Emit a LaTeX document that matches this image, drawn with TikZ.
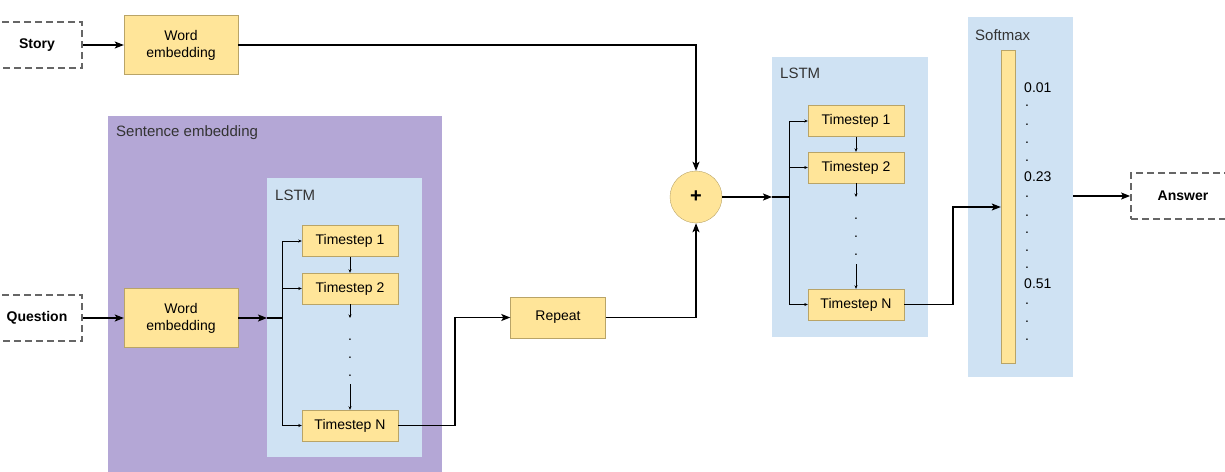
\documentclass[tikz,border=0pt]{standalone}
\usepackage{fontspec}
\setmainfont{Liberation Sans}
\usetikzlibrary{arrows.meta}

\definecolor{cellfill}{HTML}{FFE599}
\definecolor{cellline}{HTML}{B9A467}
\definecolor{sentfill}{HTML}{B4A7D6}
\definecolor{lstmfill}{HTML}{CFE2F3}
\definecolor{lblcolor}{HTML}{333333}

\begin{document}
\begin{tikzpicture}[x=1pt, y=-1pt,
    cell/.style={rectangle, draw=cellline, fill=cellfill, minimum width=96pt, minimum height=31pt, inner sep=1pt, font=\fontsize{14}{17}\selectfont},
    embed/.style={cell, minimum width=114pt, minimum height=59pt, align=center},
    iobox/.style={rectangle, draw=black!60, dash pattern=on 7pt off 4pt, line width=1.8pt, minimum width=90pt, minimum height=46pt, font=\bfseries\fontsize{14}{17}\selectfont},
    group/.style={rectangle, anchor=north west, inner sep=0pt},
    grouplbl/.style={anchor=west, inner sep=0pt, text=lblcolor, font=\fontsize{15}{17}\selectfont},
    dotlbl/.style={inner sep=0pt, font=\fontsize{14}{17}\selectfont},
    arr/.style={-{Stealth[length=9pt, width=7pt, inset=2pt]}, line width=1.2pt},
    tick/.style={-{Stealth[length=3.5pt, width=3pt]}, line width=0.6pt}
]
\useasboundingbox (0,0) rectangle (1225,471);

% Groups in the back
\node[group, fill=sentfill, minimum width=334pt, minimum height=360pt] (sent) at (108,116) {};
\node[grouplbl] (sentlbl) at (116,133) {Sentence embedding};
\node[group, fill=lstmfill, minimum width=155pt, minimum height=279pt] (lstmA) at (267,178) {};
\node[grouplbl] (lstmAlbl) at (275,195) {LSTM};
\node[group, fill=lstmfill, minimum width=156pt, minimum height=280pt] (lstmB) at (772,57) {};
\node[grouplbl] (lstmBlbl) at (780,73) {LSTM};
\node[group, fill=lstmfill, minimum width=105pt, minimum height=360pt] (soft) at (968,17) {};
\node[grouplbl] (softlbl) at (975,35) {Softmax};

% Inputs and outputs
\node[iobox] (story) at (37,45) {Story};
\node[iobox] (question) at (37,318) {Question};
\node[iobox, minimum width=104pt] (answer) at (1183,196) {Answer};

% Embeddings
\node[embed] (we1) at (181,45) {Word\\embedding};
\node[embed] (we2) at (181,318) {Word\\embedding};

% Inner LSTM (question)
\node[cell] (tsA1) at (350,241) {Timestep 1};
\node[cell] (tsA2) at (350,288.5) {Timestep 2};
\node[cell] (tsAN) at (350,425.5) {Timestep N};
\coordinate (splitA) at (282,318);
\coordinate (gapA1) at (350,318);
\coordinate (gapA2) at (350,384);
\node[dotlbl] (dotA1) at (350,340) {.};
\node[dotlbl] (dotA2) at (350,358) {.};
\node[dotlbl] (dotA3) at (350,376) {.};

% Repeat and merge
\node[cell, minimum width=95pt, minimum height=41pt] (repeat) at (558,317.5) {Repeat};
\node[circle, draw=cellline, fill=cellfill, minimum size=52pt, font=\bfseries\fontsize{20}{20}\selectfont] (plus) at (696,197) {+};
\coordinate (jogA) at (455,317.5);

% Outer LSTM
\node[cell] (tsB1) at (856,121) {Timestep 1};
\node[cell] (tsB2) at (856,167.5) {Timestep 2};
\node[cell] (tsBN) at (856,304.5) {Timestep N};
\coordinate (splitB) at (789,197);
\coordinate (gapB1) at (856,197);
\coordinate (gapB2) at (856,264);
\node[dotlbl] (dotB1) at (856,219) {.};
\node[dotlbl] (dotB2) at (856,237) {.};
\node[dotlbl] (dotB3) at (856,255) {.};
\coordinate (jogB) at (953,207);

% Softmax bar and values
\node[cell, minimum width=14pt, minimum height=313pt, inner sep=0pt] (bar) at (1008,206.5) {};
\node[dotlbl, anchor=west] (p1) at (1024,88) {0.01};
\node[dotlbl, anchor=west] (p2) at (1024,177) {0.23};
\node[dotlbl, anchor=west] (p3) at (1024,284) {0.51};
\foreach \y in {106,125,143,161,197,216,233,251,268,304,322,340}
  \node[dotlbl, anchor=west] at (1025,\y) {.};

% Connectors
\draw[arr] (story) -- (we1);
\draw[arr] (we1) -| (plus);
\draw[arr] (question) -- (we2);
\draw[arr] (we2) -- (we2 -| lstmA.west);
\draw[line width=1.2pt] (we2 -| lstmA.west) -- (splitA);
\draw[line width=0.6pt] (splitA |- tsA1) -- (splitA |- tsAN);
\draw[tick] (splitA |- tsA1) -- (tsA1);
\draw[tick] (splitA |- tsA2) -- (tsA2);
\draw[tick] (splitA |- tsAN) -- (tsAN);
\draw[tick] (tsA1) -- (tsA2);
\draw[tick] (tsA2) -- (gapA1);
\draw[tick] (gapA2) -- (tsAN);
\draw[arr] (tsAN) -| (jogA) -- (repeat);
\draw[arr] (repeat) -| (plus);
\draw[arr] (plus) -- (plus -| lstmB.west);
\draw[line width=1.2pt] (plus -| lstmB.west) -- (splitB);
\draw[line width=0.6pt] (splitB |- tsB1) -- (splitB |- tsBN);
\draw[tick] (splitB |- tsB1) -- (tsB1);
\draw[tick] (splitB |- tsB2) -- (tsB2);
\draw[tick] (splitB |- tsBN) -- (tsBN);
\draw[tick] (tsB1) -- (tsB2);
\draw[tick] (tsB2) -- (gapB1);
\draw[tick] (gapB2) -- (tsBN);
\draw[arr] (tsBN) -| (jogB) -- (jogB -| bar.west);
\draw[arr] (soft.east |- answer) -- (answer);

\end{tikzpicture}
\end{document}
